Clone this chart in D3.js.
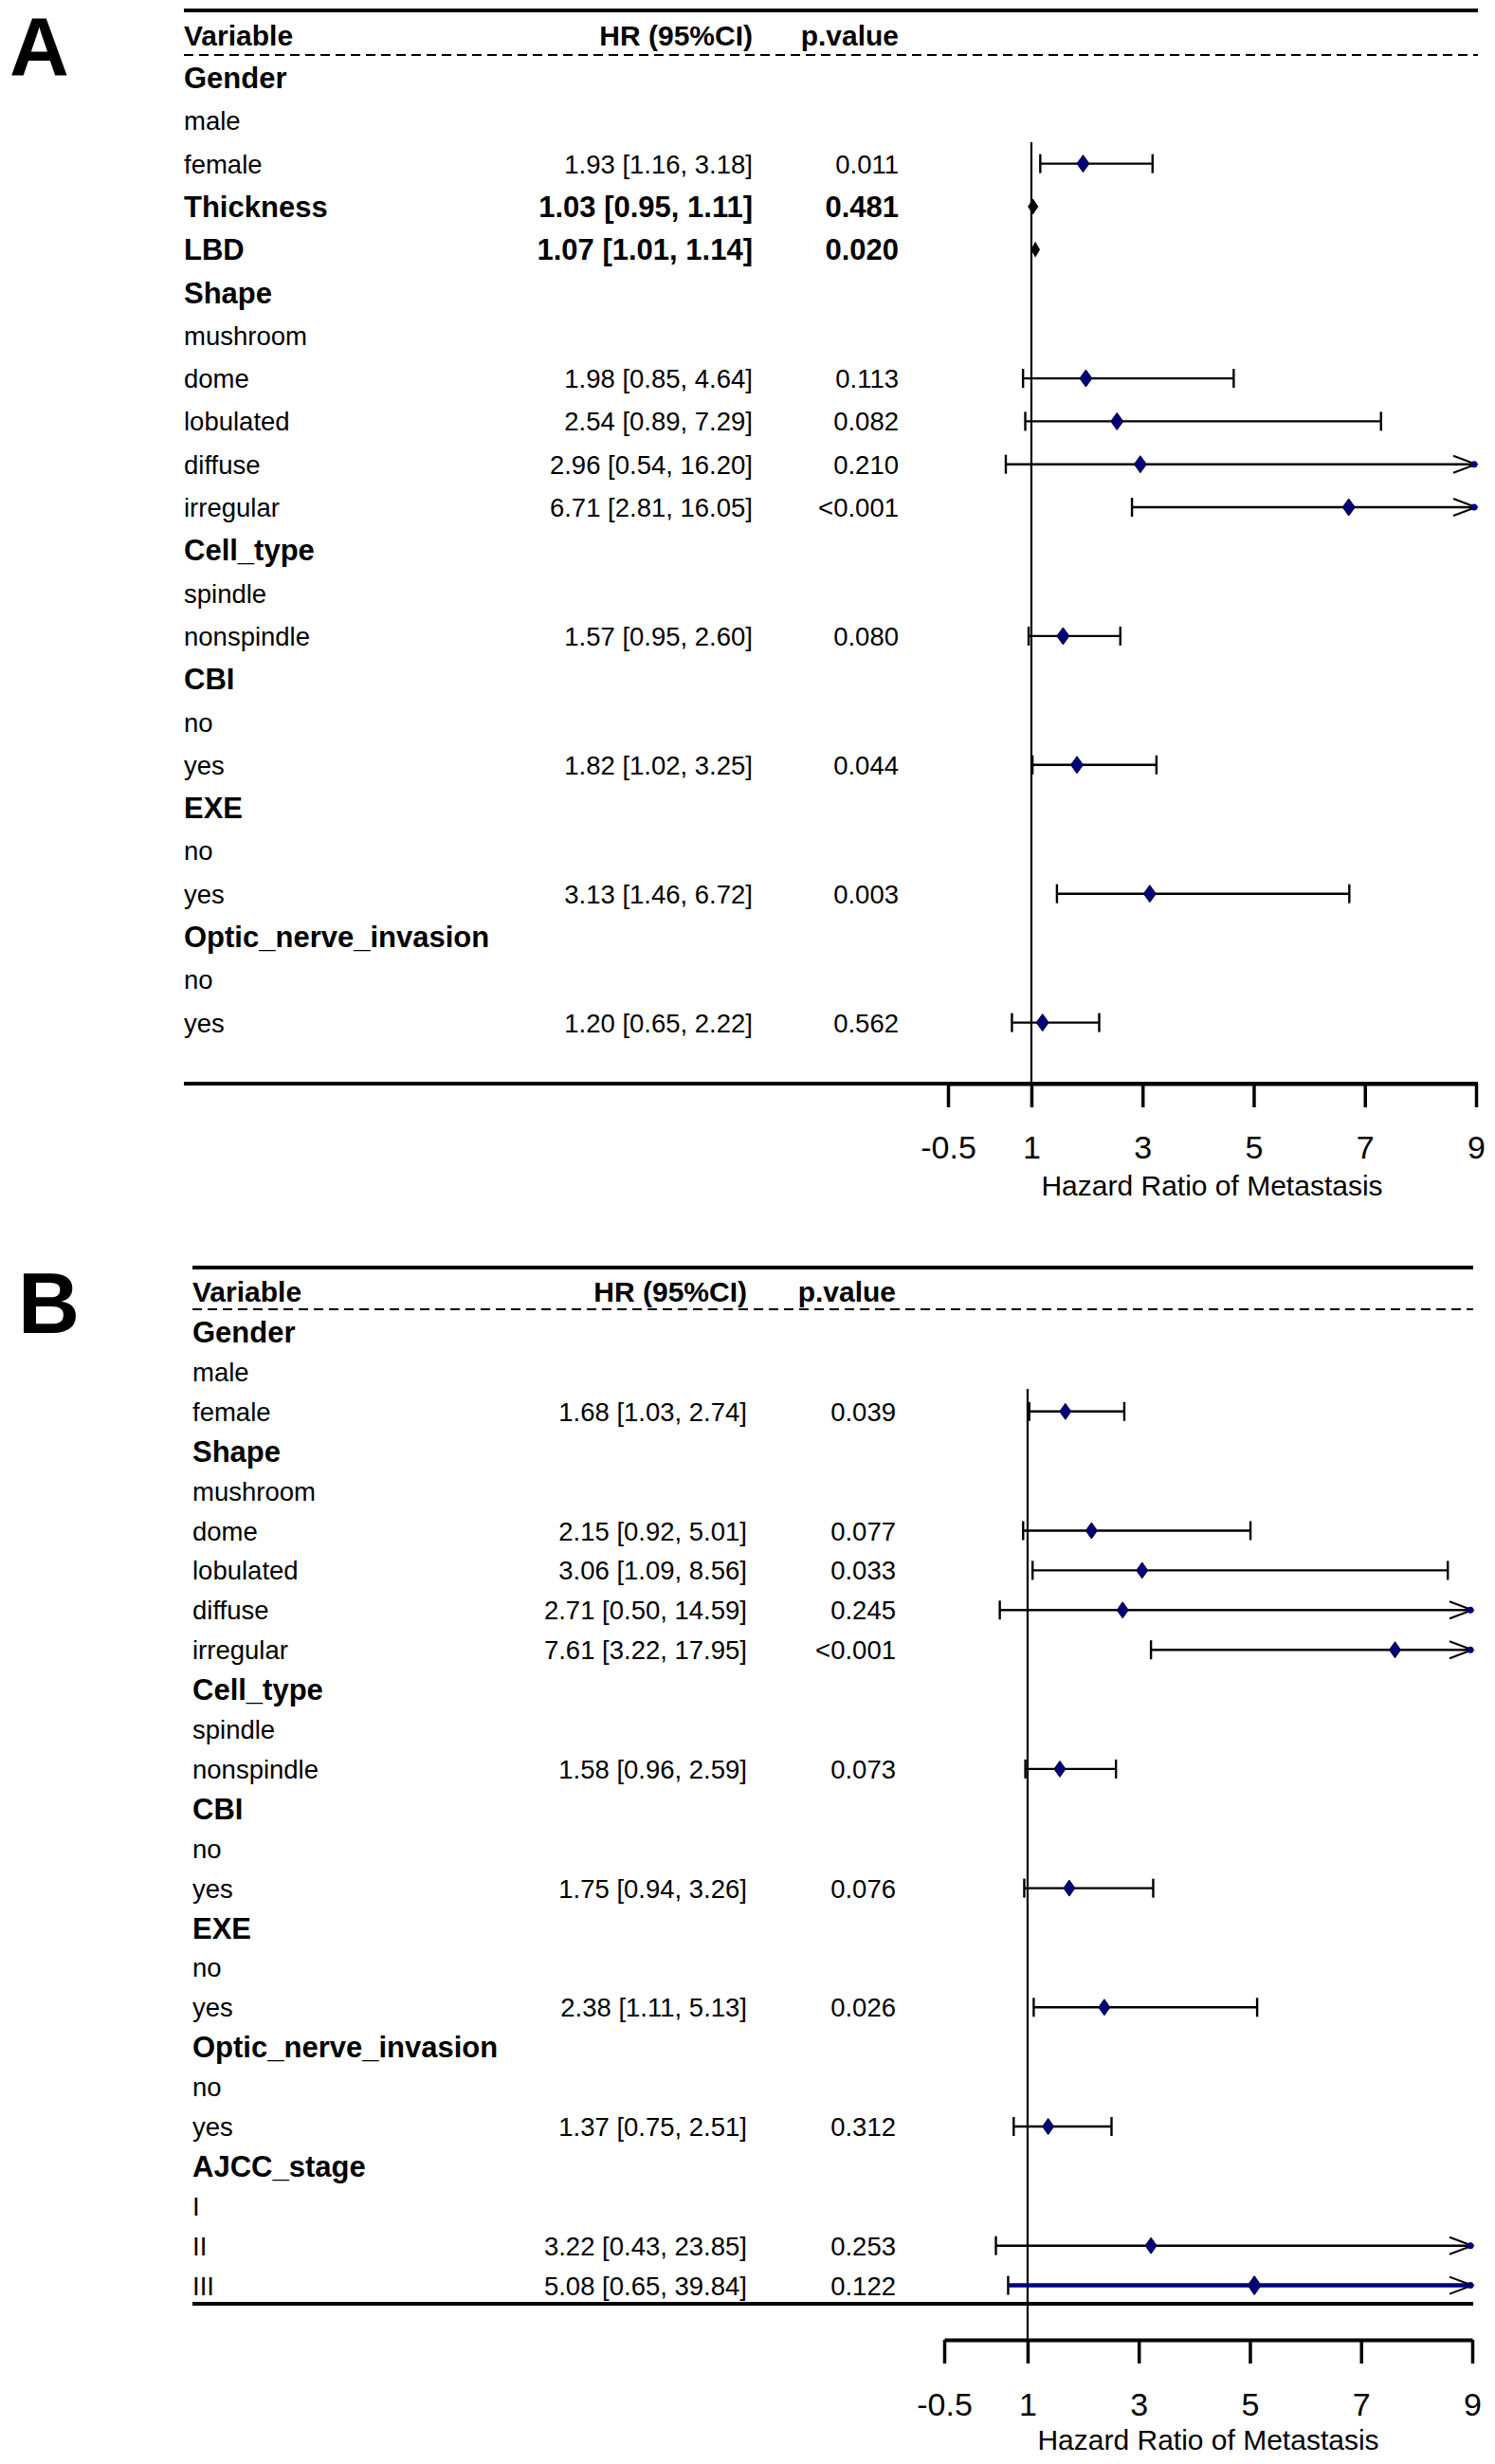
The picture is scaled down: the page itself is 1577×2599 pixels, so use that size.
<!DOCTYPE html>
<html>
<head>
<meta charset="utf-8">
<script src="https://cdn.jsdelivr.net/npm/d3@7"></script>
<style>
  html, body { margin: 0; padding: 0; background: #fff; }
  svg { display: block; font-family: "Liberation Sans", Arial, sans-serif; }
</style>
</head>
<body>
<svg id="chart" width="1577" height="2599"></svg>
<script>
// ---------------- DATA ----------------
// Panel A
const labelsA = ["Gender","male","female","Thickness","LBD","Shape","mushroom","dome","lobulated","diffuse","irregular","Cell_type","spindle","nonspindle","CBI","no","yes","EXE","no","yes","Optic_nerve_invasion","no","yes"];
const kindA   = ["group","ref","level","summary","summary","group","ref","level","level","level","level","group","ref","level","group","ref","level","group","ref","level","group","ref","level"];
const hrA     = [null,null,1.93,1.03,1.07,null,null,1.98,2.54,2.96,6.71,null,null,1.57,null,null,1.82,null,null,3.13,null,null,1.20];
const lowerA  = [null,null,1.16,0.95,1.01,null,null,0.85,0.89,0.54,2.81,null,null,0.95,null,null,1.02,null,null,1.46,null,null,0.65];
const upperA  = [null,null,3.18,1.11,1.14,null,null,4.64,7.29,16.20,16.05,null,null,2.60,null,null,3.25,null,null,6.72,null,null,2.22];
const pA      = ["","","0.011","0.481","0.020","","","0.113","0.082","0.210","<0.001","","","0.080","","","0.044","","","0.003","","","0.562"];

// Panel B
const labelsB = ["Gender","male","female","Shape","mushroom","dome","lobulated","diffuse","irregular","Cell_type","spindle","nonspindle","CBI","no","yes","EXE","no","yes","Optic_nerve_invasion","no","yes","AJCC_stage","I","II","III"];
const kindB   = ["group","ref","level","group","ref","level","level","level","level","group","ref","level","group","ref","level","group","ref","level","group","ref","level","group","ref","level","level"];
const hrB     = [null,null,1.68,null,null,2.15,3.06,2.71,7.61,null,null,1.58,null,null,1.75,null,null,2.38,null,null,1.37,null,null,3.22,5.08];
const lowerB  = [null,null,1.03,null,null,0.92,1.09,0.50,3.22,null,null,0.96,null,null,0.94,null,null,1.11,null,null,0.75,null,null,0.43,0.65];
const upperB  = [null,null,2.74,null,null,5.01,8.56,14.59,17.95,null,null,2.59,null,null,3.26,null,null,5.13,null,null,2.51,null,null,23.85,39.84];
const pB      = ["","","0.039","","","0.077","0.033","0.245","<0.001","","","0.073","","","0.076","","","0.026","","","0.312","","","0.253","0.122"];
const highlightB = [false,false,false,false,false,false,false,false,false,false,false,false,false,false,false,false,false,false,false,false,false,false,false,false,true];

const headerLabels = ["Variable","HR (95%CI)","p.value"];
const tickValues = [-0.5, 1, 3, 5, 7, 9];
const xDomain = [-0.5, 9];
const axisTitle = "Hazard Ratio of Metastasis";
const panelLetters = ["A","B"];

// ---------------- LAYOUT ----------------
const layoutA = {top: 11, left: 194, right: 1559, headerBase: 48, dash: 58, row0: 82, step: 45.3,
  bottom: 1143, axisY: 1143, xr: [1000, 1557], hrRight: 794, pRight: 948, refTop: 150,
  titleBase: 1261, tickPad: 30, letterX: 10, letterBase: 79, letterSize: 87, diamondW: 13, diamondH: 18};
const layoutB = {top: 1337, left: 203, right: 1554, headerBase: 1373, dash: 1381, row0: 1405, step: 41.9,
  bottom: 2430, axisY: 2468, xr: [996, 1553], hrRight: 788, pRight: 945, refTop: 1465,
  titleBase: 2584, tickPad: 31, letterX: 19, letterBase: 1406, letterSize: 90, diamondW: 12, diamondH: 17};

const NAVY = "#00007a";
const svg = d3.select("#chart");
svg.append("rect").attr("width", 1577).attr("height", 2599).attr("fill", "#fff");

function fmt(v) { return v.toFixed(2); }

function drawPanel(L, letter, labels, kinds, hr, lo, up, pv, highlight) {
  const g = svg.append("g");
  const x = d3.scaleLinear().domain(xDomain).range(L.xr);
  const y = d3.scaleLinear().domain([0, 1]).range([L.row0, L.row0 + L.step]);
  const n = labels.length;

  // Panel letter
  g.append("text").attr("x", L.letterX).attr("y", L.letterBase)
    .attr("font-size", L.letterSize).attr("font-weight", "bold")
    .text(letter);

  // top line
  g.append("line").attr("x1", L.left).attr("x2", L.right).attr("y1", L.top).attr("y2", L.top)
    .attr("stroke", "#000").attr("stroke-width", 4);

  // header
  g.append("text").attr("x", L.left).attr("y", L.headerBase).attr("font-size", 30).attr("font-weight", "bold").text(headerLabels[0]);
  g.append("text").attr("x", L.hrRight).attr("y", L.headerBase).attr("font-size", 30).attr("font-weight", "bold").attr("text-anchor", "end").text(headerLabels[1]);
  g.append("text").attr("x", L.pRight).attr("y", L.headerBase).attr("font-size", 30).attr("font-weight", "bold").attr("text-anchor", "end").text(headerLabels[2]);

  // dashed line
  g.append("line").attr("x1", L.left).attr("x2", L.right).attr("y1", L.dash).attr("y2", L.dash)
    .attr("stroke", "#000").attr("stroke-width", 2).attr("stroke-dasharray", "10,6");

  // rows text
  for (let i = 0; i < n; i++) {
    const bold = kinds[i] === "group" || kinds[i] === "summary";
    const cy = y(i);
    g.append("text").attr("x", L.left).attr("y", cy + (bold ? 11 : 10))
      .attr("font-size", bold ? 31 : 27.5).attr("font-weight", bold ? "bold" : "normal")
      .text(labels[i]);
    if (hr[i] != null) {
      g.append("text").attr("x", L.hrRight).attr("y", cy + (bold ? 11 : 10)).attr("text-anchor", "end")
        .attr("font-size", bold ? 31 : 27.5).attr("font-weight", bold ? "bold" : "normal")
        .text(fmt(hr[i]) + " [" + fmt(lo[i]) + ", " + fmt(up[i]) + "]");
      g.append("text").attr("x", L.pRight).attr("y", cy + (bold ? 11 : 10)).attr("text-anchor", "end")
        .attr("font-size", bold ? 31 : 27.5).attr("font-weight", bold ? "bold" : "normal")
        .text(pv[i]);
    }
  }

  // bottom table line
  g.append("line").attr("x1", L.left).attr("x2", L.right).attr("y1", L.bottom).attr("y2", L.bottom)
    .attr("stroke", "#000").attr("stroke-width", 4);

  // reference line at HR = 1
  g.append("line").attr("x1", x(1)).attr("x2", x(1)).attr("y1", L.refTop).attr("y2", L.axisY)
    .attr("stroke", "#000").attr("stroke-width", 2.2);

  // CIs and points
  const xmax = xDomain[1];
  for (let i = 0; i < n; i++) {
    if (hr[i] == null) continue;
    const cy = y(i);
    if (kinds[i] === "summary") {
      const xl = x(lo[i]), xc = x(hr[i]), xu = x(up[i]);
      g.append("path").attr("d", `M${xl},${cy} L${xc},${cy - 7} L${xu},${cy} L${xc},${cy + 7} Z`)
        .attr("fill", "#000").attr("stroke", "#000").attr("stroke-width", 1.5);
      continue;
    }
    const hl = highlight && highlight[i];
    const col = hl ? NAVY : "#000";
    const sw = hl ? 4.5 : 2.4;
    const xl = x(lo[i]);
    const clipped = up[i] > xmax;
    const xu = x(Math.min(up[i], xmax));
    g.append("line").attr("x1", xl).attr("x2", xu).attr("y1", cy).attr("y2", cy)
      .attr("stroke", col).attr("stroke-width", sw);
    // lower cap
    g.append("line").attr("x1", xl).attr("x2", xl).attr("y1", cy - 10).attr("y2", cy + 10)
      .attr("stroke", "#000").attr("stroke-width", 2.4);
    if (clipped) {
      g.append("path").attr("d", `M${xu - 24},${cy - 9} L${xu},${cy} L${xu - 24},${cy + 9}`)
        .attr("fill", "none").attr("stroke", "#000").attr("stroke-width", 2);
      g.append("circle").attr("cx", xu - 2).attr("cy", cy).attr("r", 3.5).attr("fill", NAVY);
    } else {
      g.append("line").attr("x1", xu).attr("x2", xu).attr("y1", cy - 10).attr("y2", cy + 10)
        .attr("stroke", "#000").attr("stroke-width", 2.4);
    }
    const w = hl ? L.diamondW + 2 : L.diamondW, h = hl ? L.diamondH + 3 : L.diamondH;
    const xc = x(hr[i]);
    g.append("path").attr("d", `M${xc - w / 2},${cy} L${xc},${cy - h / 2} L${xc + w / 2},${cy} L${xc},${cy + h / 2} Z`)
      .attr("fill", NAVY).attr("stroke", "#000033").attr("stroke-width", 1);
  }

  // x axis
  const axis = d3.axisBottom(x).tickValues(tickValues).tickFormat(d => String(d))
    .tickSize(25).tickSizeOuter(0).tickPadding(L.tickPad);
  const ax = g.append("g").attr("transform", `translate(0,${L.axisY})`).call(axis);
  ax.select(".domain").attr("stroke", "#000").attr("stroke-width", 4);
  ax.selectAll(".tick line").attr("stroke", "#000").attr("stroke-width", 3.5);
  ax.selectAll(".tick text").attr("font-size", 34).attr("fill", "#000")
    .attr("font-family", "'Liberation Sans', Arial, sans-serif");

  // axis title
  g.append("text").attr("x", (L.xr[0] + L.xr[1]) / 2).attr("y", L.titleBase)
    .attr("text-anchor", "middle").attr("font-size", 30).text(axisTitle);
}

drawPanel(layoutA, panelLetters[0], labelsA, kindA, hrA, lowerA, upperA, pA, null);
drawPanel(layoutB, panelLetters[1], labelsB, kindB, hrB, lowerB, upperB, pB, highlightB);
</script>
</body>
</html>
